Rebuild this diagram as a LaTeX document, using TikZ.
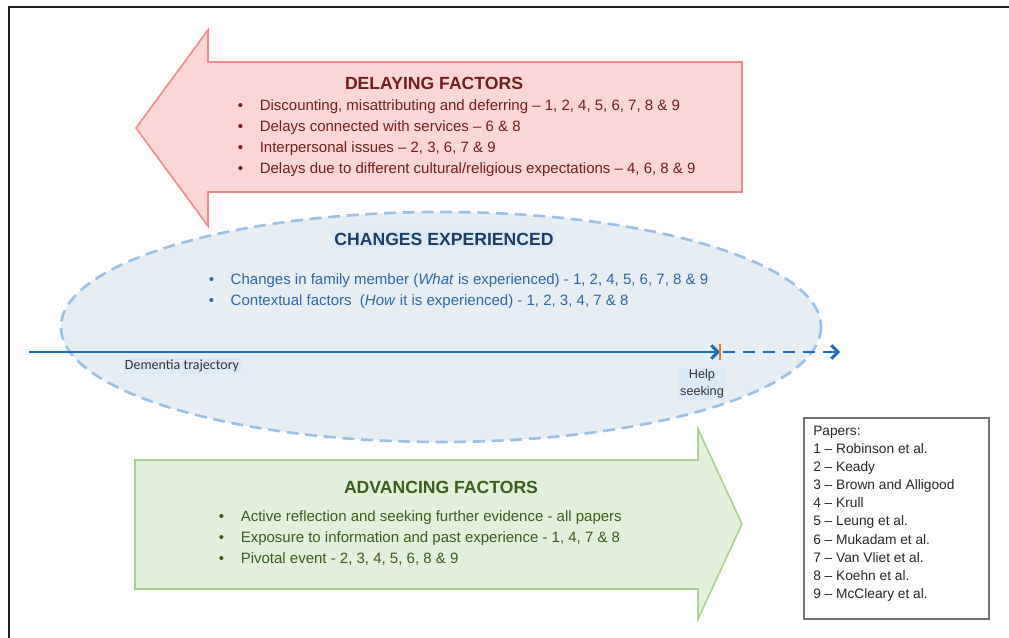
\documentclass[tikz,border=0pt]{standalone}
\usepackage{fontspec}
\setmainfont{Liberation Sans}
\newfontfamily\calibfont{Carlito}
\usetikzlibrary{arrows.meta}

\definecolor{delayfill}{RGB}{250,214,214}
\definecolor{delayline}{RGB}{238,140,140}
\definecolor{delaytext}{RGB}{118,28,28}
\definecolor{changefill}{RGB}{230,237,243}
\definecolor{changeline}{RGB}{155,194,230}
\definecolor{changehead}{RGB}{28,62,102}
\definecolor{changetext}{RGB}{44,104,166}
\definecolor{hilite}{RGB}{220,233,246}
\definecolor{trajblue}{RGB}{22,110,190}
\definecolor{helporange}{RGB}{237,118,40}
\definecolor{advfill}{RGB}{226,239,218}
\definecolor{advline}{RGB}{169,210,142}
\definecolor{advtext}{RGB}{58,94,32}
\definecolor{framegray}{RGB}{35,31,32}

\newcommand{\bitem}[1]{\textbullet\hspace{12.4pt}#1}

\tikzset{
  frame/.style={draw=framegray, line width=1.6pt},
  headtxt/.style={font=\fontsize{13.2}{15}\selectfont\bfseries, inner sep=1.5pt},
  itemtxt/.style={font=\fontsize{11.25}{13}\selectfont, anchor=base west, inner sep=0pt},
  papertxt/.style={font=\fontsize{10.3}{13.6}\selectfont, align=left, anchor=north west, inner sep=0pt, text=black!85},
  traj/.style={draw=trajblue, line width=2.2pt},
  trajtip/.tip={Straight Barb[length=5pt, width=10pt]}
}

\begin{document}
\begin{tikzpicture}[x=0.75pt,y=-0.75pt]
    \useasboundingbox (0,0) rectangle (1009,638); %lienzo
    \draw[frame] (9,638) -- (9,7) -- (1009,7); %marco
    % flecha de retraso
    \draw[draw=delayline, fill=delayfill, line width=1.2pt] (136,128) -- (208,30) -- (208,62) -- (742,62) -- (742,192) -- (208,192) -- (208,226) -- cycle; %flecha roja
    \node[headtxt, text=delaytext] (delayhead) at (434,83) {DELAYING FACTORS}; %titulo
    \foreach \txt [count=\i] in {{Discounting, misattributing and deferring – 1, 2, 4, 5, 6, 7, 8 \& 9},
                                 {Delays connected with services – 6 \& 8},
                                 {Interpersonal issues – 2, 3, 6, 7 \& 9},
                                 {Delays due to different cultural/religious expectations – 4, 6, 8 \& 9}}
        \node[itemtxt, text=delaytext] (delay\i) at (237.7,{111+(\i-1)*20.7}) {\bitem{\txt}}; %puntos
    % elipse de cambios
    \draw[draw=changeline, fill=changefill, line width=2pt, dash pattern=on 9pt off 5pt] (441,327) ellipse [x radius=380, y radius=115]; %elipse
    \node[headtxt, text=changehead, fill=hilite] (changehead) at (444,239) {CHANGES EXPERIENCED}; %titulo
    \node[itemtxt, text=changetext] (change1) at (208.7,284) {\bitem{Changes in family member (\textit{What} is experienced) - 1, 2, 4, 5, 6, 7, 8 \& 9}}; %punto 1
    \node[itemtxt, text=changetext] (change2) at (208.7,305) {\bitem{Contextual factors~ (\textit{How} it is experienced) - 1, 2, 3, 4, 7 \& 8}}; %punto 2
    % trayectoria
    \coordinate (trajstart) at (29,352); %inicio
    \coordinate (helppt) at (720,352); %busqueda de ayuda
    \coordinate (trajend) at (840,352); %fin
    \draw[traj, -trajtip] (trajstart) -- (helppt); %linea continua
    \draw[traj, dash pattern=on 9pt off 6pt, -trajtip] ([xshift=2pt]helppt) -- (trajend); %linea discontinua
    \draw[draw=helporange, line width=2.2pt] ([yshift=6pt]helppt) -- ([yshift=-6pt]helppt); %marca naranja
    \node[fill=hilite, font=\calibfont\fontsize{10.5}{12}\selectfont, inner sep=1.5pt, text=black!80] (trajlabel) at (182,366) {Dementia trajectory}; %etiqueta
    \node[fill=hilite, font=\fontsize{9.5}{12.75}\selectfont, align=center, inner sep=1.2pt, text=black!80] (help) at (702,384) {Help\\seeking}; %etiqueta
    % flecha de avance
    \draw[draw=advline, fill=advfill, line width=1.2pt] (135,460) -- (698,460) -- (698,429) -- (742,524) -- (698,619) -- (698,589) -- (135,589) -- cycle; %flecha verde
    \node[headtxt, text=advtext] (advhead) at (441,487) {ADVANCING FACTORS}; %titulo
    \foreach \txt [count=\i] in {{Active reflection and seeking further evidence - all papers},
                                 {Exposure to information and past experience - 1, 4, 7 \& 8},
                                 {Pivotal event - 2, 3, 4, 5, 6, 8 \& 9}}
        \node[itemtxt, text=advtext] (adv\i) at (218.7,{521+(\i-1)*21}) {\bitem{\txt}}; %puntos
    % lista de articulos
    \draw[draw=black!55, line width=0.8pt] (804,418) rectangle (989,619); %caja
    \node[papertxt] (papers) at (813,425.5) {Papers:\\1 – Robinson et al.\\2 – Keady\\3 – Brown and Alligood\\4 – Krull\\5 – Leung et al.\\6 – Mukadam et al.\\7 – Van Vliet et al.\\8 – Koehn et al.\\9 – McCleary et al.}; %articulos
\end{tikzpicture}
\end{document}
